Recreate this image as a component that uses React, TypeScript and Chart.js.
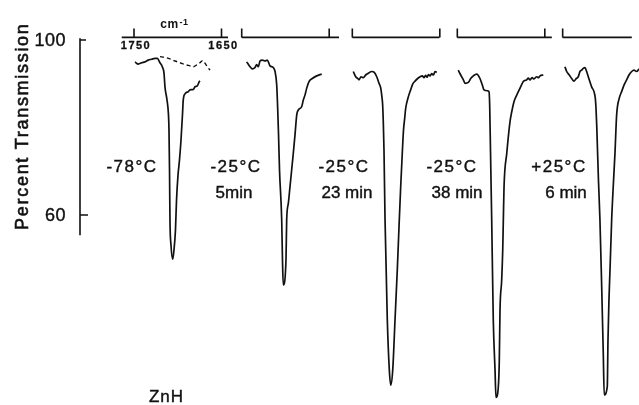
import { useEffect, useRef } from 'react';
import { Chart, registerables } from 'chart.js';

Chart.register(...registerables);

// Carbonyl region (cm⁻¹) vs percent transmission, one trace per sampling.
const P1_WN = [1748.9, 1745.1, 1741.2, 1737.4, 1733.7, 1729.8, 1726.0, 1723.4, 1720.3, 1717.7, 1715.7, 1714.6, 1712.3, 1710.6, 1710.0, 1709.4, 1708.9, 1707.7, 1705.8, 1704.3, 1702.6, 1701.4, 1699.7, 1698.0, 1696.3, 1694.6, 1693.7, 1691.7, 1687.9, 1686.0, 1682.2, 1680.3, 1677.7, 1675.4, 1674.6];
const P1_T = [95.0, 94.5, 94.8, 95.0, 95.4, 95.6, 95.8, 95.8, 94.8, 93.9, 92.4, 89.3, 86.3, 82.9, 79.4, 70.3, 58.9, 53.1, 49.9, 52.0, 56.6, 63.4, 69.1, 72.6, 77.1, 82.9, 86.3, 87.7, 88.2, 88.6, 88.7, 89.3, 89.5, 90.5, 90.7];

// background trace (dashed) under the -78 °C spectrum
const P1_REF_WN = [1720.3, 1714.6, 1708.9, 1703.1, 1697.4, 1691.7, 1686.0, 1682.2, 1678.3, 1674.6, 1671.5, 1668.9, 1666.2, 1663.1];
const P1_REF_T = [96.2, 96.0, 95.7, 95.2, 94.8, 94.4, 94.1, 93.9, 94.3, 94.8, 95.3, 94.7, 93.9, 93.1];

const P2_WN = [1744.3, 1740.5, 1737.9, 1734.8, 1732.9, 1731.0, 1729.1, 1726.5, 1723.4, 1720.7, 1717.7, 1713.9, 1711.9, 1710.0, 1708.9, 1707.9, 1706.8, 1704.3, 1703.4, 1702.5, 1699.4, 1698.6, 1696.7, 1694.8, 1691.0, 1689.1, 1687.1, 1685.3, 1681.4, 1679.6, 1677.7, 1675.7, 1673.1, 1669.3, 1664.3, 1658.6];
const P2_T = [95.0, 93.9, 93.4, 93.7, 94.4, 93.9, 95.2, 95.4, 95.2, 95.4, 94.1, 93.7, 92.8, 89.7, 84.4, 78.3, 70.3, 58.9, 49.7, 44.0, 49.7, 58.9, 62.7, 66.5, 74.2, 78.3, 82.9, 84.0, 84.8, 86.3, 87.4, 89.0, 90.5, 91.2, 91.8, 92.2];

const P3_WN = [1748.9, 1746.1, 1743.8, 1742.3, 1740.1, 1737.4, 1734.7, 1731.7, 1727.8, 1724.9, 1722.1, 1719.5, 1717.5, 1716.4, 1715.3, 1714.6, 1713.8, 1712.6, 1710.0, 1707.7, 1706.1, 1703.8, 1701.2, 1698.6, 1696.3, 1694.7, 1692.9, 1691.5, 1690.1, 1689.0, 1686.0, 1683.3, 1681.0, 1678.3, 1675.3, 1672.6, 1670.0, 1668.1, 1666.3, 1664.6, 1662.9, 1661.2, 1659.3, 1657.2, 1655.5, 1653.5];
const P3_T = [92.8, 91.6, 91.2, 90.9, 91.6, 91.4, 92.0, 92.4, 92.8, 92.6, 91.6, 90.1, 89.0, 87.4, 85.1, 81.3, 74.9, 58.9, 36.0, 24.6, 21.1, 24.6, 36.0, 47.4, 58.9, 66.5, 74.1, 79.4, 82.2, 84.4, 87.0, 88.6, 89.9, 90.6, 91.2, 91.6, 91.8, 91.4, 91.9, 91.5, 92.1, 91.8, 92.3, 92.0, 92.8, 92.6];

const P4_WN = [1748.9, 1746.1, 1743.1, 1741.2, 1737.4, 1734.7, 1731.7, 1727.8, 1724.1, 1721.4, 1719.5, 1715.7, 1713.8, 1713.0, 1712.6, 1710.7, 1708.9, 1706.9, 1705.8, 1703.1, 1702.0, 1701.2, 1699.3, 1698.1, 1697.4, 1696.6, 1693.5, 1689.8, 1687.8, 1685.2, 1682.1, 1678.3, 1674.6, 1670.7, 1668.9, 1666.9, 1664.6, 1662.3, 1659.3, 1657.2, 1655.5, 1651.7];
const P4_T = [93.1, 92.0, 90.9, 90.1, 90.3, 91.2, 91.8, 92.2, 91.2, 89.7, 88.6, 88.4, 88.2, 85.1, 80.6, 58.9, 36.0, 24.6, 18.3, 20.8, 26.9, 38.3, 45.1, 52.0, 58.9, 66.5, 74.1, 81.3, 83.6, 85.9, 87.4, 89.0, 90.5, 90.9, 91.3, 90.9, 91.4, 91.1, 91.6, 91.4, 91.8, 92.0];

const P5_WN = [1747.4, 1745.4, 1742.5, 1739.7, 1737.1, 1734.8, 1732.2, 1730.2, 1728.3, 1726.5, 1724.5, 1722.6, 1719.6, 1716.9, 1714.2, 1712.7, 1711.9, 1711.1, 1709.1, 1707.4, 1705.4, 1703.6, 1702.5, 1699.0, 1698.2, 1697.1, 1695.9, 1694.0, 1692.2, 1690.2, 1688.3, 1685.3, 1682.6, 1679.9, 1676.9, 1674.2, 1671.1, 1668.5, 1665.4, 1662.8];
const P5_T = [93.9, 92.8, 92.0, 91.2, 90.6, 91.1, 91.6, 92.8, 93.1, 93.5, 93.7, 92.8, 90.9, 89.3, 88.2, 86.7, 84.4, 80.6, 68.0, 58.9, 43.6, 28.5, 18.9, 20.8, 31.4, 40.6, 47.4, 58.9, 66.5, 74.2, 82.9, 86.7, 88.2, 89.7, 90.9, 92.0, 92.8, 93.1, 92.8, 93.4];

const TEMPERATURES = ['-78°C', '-25°C', '-25°C', '-25°C', '+25°C'];
const TIMES = ['', '5min', '23 min', '38 min', '6 min'];
const Y_TICKS = [100, 60];
const WN_LABELS = ['1750', '1650'];

// ---- layout ----
const INK = '#111';
const FONT = '"Liberation Sans", Arial, Helvetica, sans-serif';
const X_MIN = -61.71;
const X_MAX = 577.14;
const Y_MIN = 17;
const Y_MAX = 108;
// shift of each panel along the shared horizontal axis (in cm⁻¹)
const PANEL_SHIFT = [0, 123.1, 249.5, 369.5, 489.9];
const PANEL_AXIS = [[1764, 1642.6], [1750, 1638.8], [1750, 1650.5], [1750, 1642], [1750, 1671]];
const PANEL_TICKS = [[1750, 1650], [1750, 1650], [1750, 1650], [1750, 1650], [1750]];
const TEMP_LABEL_WN = [1752.3, 1756.5, 1759.5, 1756.1, 1754.2];
const TIME_LABEL_WN = [1750, 1758.8, 1756.1, 1750.3, 1746.2];
const TEMP_LABEL_T = 71;
const TIME_LABEL_T = 65;
const Y_AXIS_SPAN = [100.4, 55.4];
const BRACKET_T = 100.6;

const pos = (panel: number, wn: number) => PANEL_SHIFT[panel] + (1750 - wn);

const toPoints = (panel: number, wn: number[], t: number[]) =>
  wn.map((w, k) => ({ x: pos(panel, w), y: t[k] }));

const traces: [number, number[], number[], boolean][] = [
  [0, P1_REF_WN, P1_REF_T, true],
  [0, P1_WN, P1_T, false],
  [1, P2_WN, P2_T, false],
  [2, P3_WN, P3_T, false],
  [3, P4_WN, P4_T, false],
  [4, P5_WN, P5_T, false],
];

// pen-lettered look: fill plus a thin outline
const inkText = (ctx: CanvasRenderingContext2D, s: string, x: number, y: number, w = 0.4) => {
  ctx.fillText(s, x, y);
  ctx.lineWidth = w;
  ctx.strokeText(s, x, y);
};

const panelDecor = {
  id: 'panelDecor',
  afterDatasetsDraw(chart: any) {
    const { ctx, chartArea, scales } = chart;
    const xs = scales.x;
    const ys = scales.y;
    const px = (i: number, wn: number) => xs.getPixelForValue(pos(i, wn));
    const py = (t: number) => ys.getPixelForValue(t);

    ctx.save();
    ctx.strokeStyle = INK;
    ctx.fillStyle = INK;
    ctx.lineWidth = 1.6;

    // ordinate line with inward ticks
    const ax = chartArea.left;
    ctx.beginPath();
    ctx.moveTo(ax, py(Y_AXIS_SPAN[0]));
    ctx.lineTo(ax, py(Y_AXIS_SPAN[1]));
    Y_TICKS.forEach((t, k) => {
      const yy = py(t);
      ctx.moveTo(ax, yy);
      ctx.lineTo(ax + (k === 0 ? 6 : 8), yy);
    });
    ctx.stroke();

    // ordinate numbers
    ctx.textAlign = 'right';
    ctx.textBaseline = 'middle';
    ctx.font = `18px ${FONT}`;
    ctx.letterSpacing = '0.5px';
    Y_TICKS.forEach((t) => inkText(ctx, String(t), ax - 14, py(t) + 1, 0.4));

    // wavenumber bracket above each spectrum
    const by = py(BRACKET_T);
    ctx.lineWidth = 1.6;
    PANEL_AXIS.forEach(([a, b], i) => {
      ctx.beginPath();
      ctx.moveTo(px(i, a), by);
      ctx.lineTo(px(i, b), by);
      PANEL_TICKS[i].forEach((w) => {
        ctx.moveTo(px(i, w), by);
        ctx.lineTo(px(i, w), by - 9);
      });
      ctx.stroke();
    });

    ctx.textAlign = 'center';
    ctx.textBaseline = 'middle';

    // scale numbers on the first bracket
    ctx.font = `bold 11px ${FONT}`;
    ctx.letterSpacing = '1.5px';
    PANEL_TICKS[0].forEach((w, k) => {
      inkText(ctx, WN_LABELS[k], px(0, w) + 2, by + 9, 0.3);
    });

    // unit
    ctx.letterSpacing = '0.5px';
    ctx.font = `bold 12px ${FONT}`;
    ctx.textAlign = 'right';
    ctx.textBaseline = 'alphabetic';
    const ux = px(0, 1699);
    ctx.fillText('cm', ux, by - 9);
    ctx.textAlign = 'left';
    ctx.font = `bold 9px ${FONT}`;
    ctx.fillText('-1', ux + 1, by - 12);

    // sample conditions
    ctx.textAlign = 'center';
    ctx.textBaseline = 'middle';
    ctx.font = `17px ${FONT}`;
    TEMPERATURES.forEach((s, i) => {
      ctx.letterSpacing = '1.5px';
      inkText(ctx, s, px(i, TEMP_LABEL_WN[i]), py(TEMP_LABEL_T));
      if (TIMES[i]) {
        ctx.letterSpacing = '0px';
        inkText(ctx, TIMES[i], px(i, TIME_LABEL_WN[i]), py(TIME_LABEL_T));
      }
    });

    ctx.letterSpacing = '1px';
    inkText(ctx, 'ZnH', px(0, 1712.9), py(18.4));

    // ordinate title
    ctx.translate(ax - 57, py(80.3));
    ctx.rotate(-Math.PI / 2);
    ctx.font = `18px ${FONT}`;
    ctx.letterSpacing = '1.7px';
    inkText(ctx, 'Percent Transmission', 0, 0, 0.6);
    ctx.restore();
  },
};

export default function App() {
  const ref = useRef<HTMLCanvasElement>(null);

  useEffect(() => {
    const canvas = ref.current;
    if (!canvas) return;
    const chart = new Chart(canvas, {
      type: 'line',
      data: {
        datasets: traces.map(([panel, wn, t, dashed]) => ({
          data: toPoints(panel, wn, t),
          borderColor: INK,
          borderWidth: dashed ? 1.4 : 1.7,
          borderDash: dashed ? [4, 3] : [],
          pointRadius: 0,
          cubicInterpolationMode: 'monotone' as const,
          fill: false,
        })),
      },
      options: {
        responsive: false,
        animation: false,
        devicePixelRatio: 1,
        events: [],
        layout: { padding: { top: 5, bottom: 1.875, left: 0, right: 0 } },
        plugins: {
          legend: { display: false },
          tooltip: { enabled: false },
        },
        scales: {
          x: { type: 'linear', min: X_MIN, max: X_MAX, display: false },
          y: {
            type: 'linear',
            min: Y_MIN,
            max: Y_MAX,
            afterBuildTicks: (s: any) => {
              s.ticks = Y_TICKS.map((v) => ({ value: v }));
            },
            afterFit: (s: any) => {
              s.width = 80;
              s.paddingTop = 0;
              s.paddingBottom = 0;
            },
            grid: { display: false, drawTicks: false },
            border: { display: false },
            // numbers are lettered by the panel plugin
            ticks: { display: false },
          },
        },
      },
      plugins: [panelDecor],
    });
    return () => chart.destroy();
  }, []);

  return (
    <div style={{ position: 'fixed', left: 0, top: 0, width: 639, height: 405, background: '#fff' }}>
      <canvas ref={ref} width={639} height={405} style={{ display: 'block' }} />
    </div>
  );
}
